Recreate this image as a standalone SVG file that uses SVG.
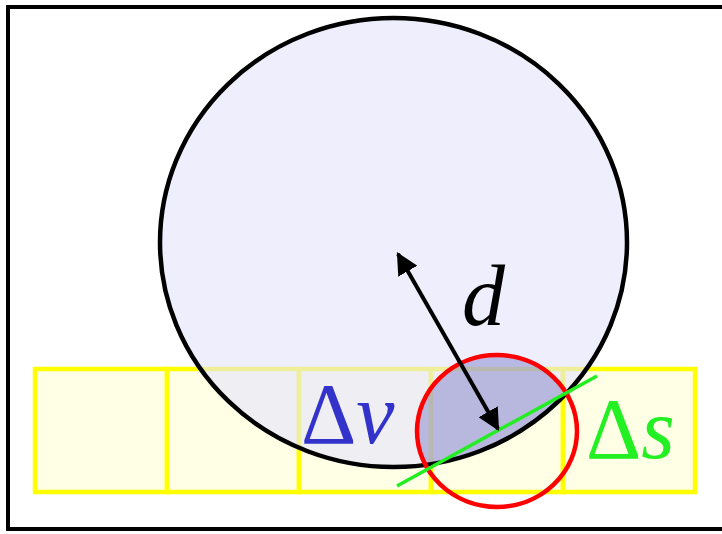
<svg xmlns="http://www.w3.org/2000/svg" width="722" height="534" viewBox="0 0 722 534">
  <style>
    .cell { fill: #ffffe6; stroke: #ffff00; stroke-width: 4.5; }
    .lbl { font-family: "Liberation Serif", "Times New Roman", serif; font-size: 86px; }
    .it { font-style: italic; }
  </style>
  <defs>
    <marker id="ah" viewBox="0 0 10 10" refX="9" refY="5" markerWidth="5.5" markerHeight="5.5" orient="auto-start-reverse" markerUnits="strokeWidth">
      <path d="M0,0 L10,5 L0,10 z" fill="#000"/>
    </marker>
    <clipPath id="bigClip">
      <ellipse cx="393.5" cy="242.5" rx="233.5" ry="224.5"/>
    </clipPath>
  </defs>
  <rect x="0" y="0" width="722" height="534" fill="#fff"/>
  <rect x="8" y="7" width="718" height="522" fill="none" stroke="#000" stroke-width="4"/>

  <g id="cells">
    <rect class="cell" x="35" y="369" width="132" height="123"/>
    <rect class="cell" x="167" y="369" width="132" height="123"/>
    <rect class="cell" x="299" y="369" width="132" height="123"/>
    <rect class="cell" x="431" y="369" width="132" height="123"/>
    <rect class="cell" x="563" y="369" width="132" height="123"/>
  </g>

  <g id="sphere">
    <ellipse cx="393.5" cy="242.5" rx="233.5" ry="224.5" fill="#e4e4fa" fill-opacity="0.62"/>
    <ellipse cx="497" cy="431" rx="80" ry="76" fill="#8282cc" fill-opacity="0.5" clip-path="url(#bigClip)"/>
    <ellipse cx="393.5" cy="242.5" rx="233.5" ry="224.5" fill="none" stroke="#000" stroke-width="4.5"/>
  </g>

  <g id="neighborhood">
    <ellipse cx="497" cy="431" rx="80" ry="76" fill="none" stroke="#ff0000" stroke-width="4.5"/>
  </g>

  <g id="connectors">
    <line x1="397" y1="486" x2="597" y2="376" stroke="#22ee22" stroke-width="3.5"/>
    <line x1="398" y1="254" x2="498" y2="429" stroke="#000" stroke-width="4" marker-start="url(#ah)" marker-end="url(#ah)"/>
  </g>

  <g id="labels">
    <text class="lbl it" x="462" y="325" fill="#000">d</text>
    <text class="lbl" x="301" y="443" fill="#3333cc">Δ<tspan class="it">v</tspan></text>
    <text class="lbl" x="586" y="458" fill="#22f022">Δ<tspan class="it">s</tspan></text>
  </g>
</svg>
